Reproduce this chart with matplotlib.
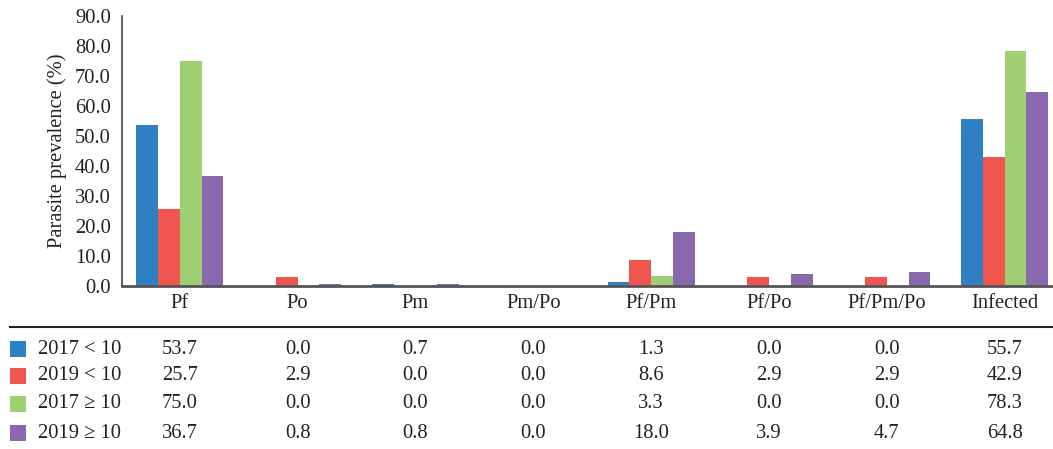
import numpy as np
import matplotlib.pyplot as plt
from matplotlib.patches import Rectangle
from matplotlib.transforms import blended_transform_factory
from matplotlib.lines import Line2D

categories = ["Pf", "Po", "Pm", "Pm/Po", "Pf/Pm", "Pf/Po", "Pf/Pm/Po", "Infected"]
series_names = ["2017 < 10", "2019 < 10", "2017 \u2265 10", "2019 \u2265 10"]
v2017_lt10 = [53.7, 0.0, 0.7, 0.0, 1.3, 0.0, 0.0, 55.7]
v2019_lt10 = [25.7, 2.9, 0.0, 0.0, 8.6, 2.9, 2.9, 42.9]
v2017_ge10 = [75.0, 0.0, 0.0, 0.0, 3.3, 0.0, 0.0, 78.3]
v2019_ge10 = [36.7, 0.8, 0.8, 0.0, 18.0, 3.9, 4.7, 64.8]
series = [v2017_lt10, v2019_lt10, v2017_ge10, v2019_ge10]
colors = ["#2E80C3", "#F0554F", "#9FCF72", "#8869AD"]

plt.rcParams["font.family"] = ["Liberation Serif", "DejaVu Serif"]
W, H = 1053, 449
fs = 14.8
fig = plt.figure(figsize=(W / 100, H / 100), dpi=100)

ax_left, ax_right, ax_top, ax_bot = 122, 1053, 16, 286
ax = fig.add_axes([ax_left / W, 1 - ax_bot / H, (ax_right - ax_left) / W, (ax_bot - ax_top) / H])

x = np.arange(len(categories))
bw = 0.185
for i, (vals, c) in enumerate(zip(series, colors)):
    ax.bar(x + (i - 1.5) * bw, vals, width=bw, color=c, linewidth=0)

ax.set_xlim(-0.49, 7.41)
ax.set_ylim(0, 90)
ax.set_yticks(np.arange(0, 91, 10))
ax.set_yticklabels([f"{v:.1f}" for v in np.arange(0, 91, 10)], fontsize=fs, color="#222222")
ax.tick_params(axis="y", length=0, pad=8)
ax.set_xticks([])
ax.set_ylabel("Parasite prevalence (%)", fontsize=fs, color="#222222", labelpad=6)
for s in ["top", "right"]:
    ax.spines[s].set_visible(False)
ax.spines["left"].set_color("#444444")
ax.spines["left"].set_linewidth(1.2)
ax.spines["bottom"].set_color("#555555")
ax.spines["bottom"].set_linewidth(2)

tr = blended_transform_factory(ax.transData, fig.transFigure)

def fy(py):
    return 1 - py / H

for xi, cat in zip(x, categories):
    ax.text(xi, fy(303), cat, transform=tr, ha="center", va="center",
            fontsize=fs, color="#222222", clip_on=False)

fig.add_artist(Line2D([10 / W, 1], [fy(327), fy(327)], color="#222222", linewidth=1.5))

row_y = [349, 376, 404, 433]
for name, vals, c, ry in zip(series_names, series, colors, row_y):
    fig.add_artist(Rectangle((10 / W, fy(ry + 8)), 16 / W, 16 / H, color=c, linewidth=0))
    fig.text(38 / W, fy(ry), name, ha="left", va="center", fontsize=fs, color="#222222")
    for xi, v in zip(x, vals):
        ax.text(xi, fy(ry), f"{v:.1f}", transform=tr, ha="center", va="center",
                fontsize=fs, color="#222222", clip_on=False)

fig.savefig("out.png", dpi=100)
